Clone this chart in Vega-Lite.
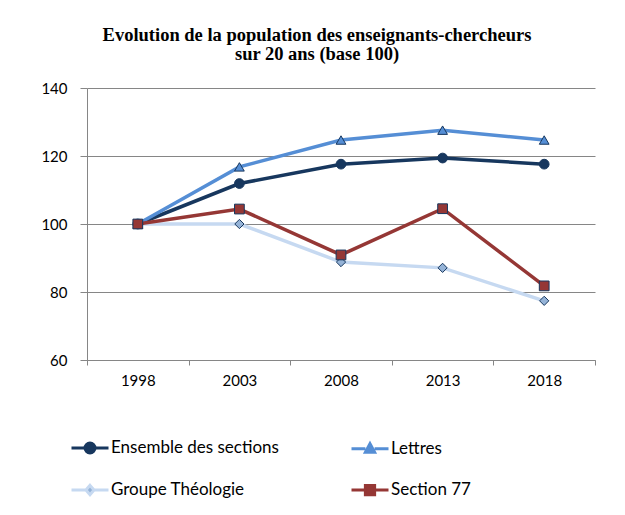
{
  "$schema": "https://vega.github.io/schema/vega-lite/v6.json",
  "width": 508,
  "height": 272,
  "autosize": "none",
  "padding": {"left": 87, "top": 88, "right": 30, "bottom": 155},
  "background": "white",
  "config": {"view": {"stroke": null}},
  "title": {
    "text": ["Evolution de la population des enseignants-chercheurs", "sur 20 ans (base 100)"],
    "font": "Liberation Serif",
    "fontSize": 18.5,
    "fontWeight": "bold",
    "color": "#000000",
    "anchor": "middle",
    "dx": -24,
    "offset": 18,
    "lineHeight": 19
  },
  "data": {
    "values": [
      {"annee": "1998", "serie": "Ensemble des sections", "valeur": 100},
      {"annee": "2003", "serie": "Ensemble des sections", "valeur": 111.9},
      {"annee": "2008", "serie": "Ensemble des sections", "valeur": 117.6},
      {"annee": "2013", "serie": "Ensemble des sections", "valeur": 119.4},
      {"annee": "2018", "serie": "Ensemble des sections", "valeur": 117.6},
      {"annee": "1998", "serie": "Lettres", "valeur": 100},
      {"annee": "2003", "serie": "Lettres", "valeur": 116.8},
      {"annee": "2008", "serie": "Lettres", "valeur": 124.7},
      {"annee": "2013", "serie": "Lettres", "valeur": 127.6},
      {"annee": "2018", "serie": "Lettres", "valeur": 124.7},
      {"annee": "1998", "serie": "Groupe Théologie", "valeur": 100},
      {"annee": "2003", "serie": "Groupe Théologie", "valeur": 100},
      {"annee": "2008", "serie": "Groupe Théologie", "valeur": 88.8},
      {"annee": "2013", "serie": "Groupe Théologie", "valeur": 87.1},
      {"annee": "2018", "serie": "Groupe Théologie", "valeur": 77.4},
      {"annee": "1998", "serie": "Section 77", "valeur": 100},
      {"annee": "2003", "serie": "Section 77", "valeur": 104.4},
      {"annee": "2008", "serie": "Section 77", "valeur": 90.9},
      {"annee": "2013", "serie": "Section 77", "valeur": 104.5},
      {"annee": "2018", "serie": "Section 77", "valeur": 81.8}
    ]
  },
  "encoding": {
    "x": {
      "field": "annee",
      "type": "ordinal",
      "bandPosition": 0.5,
      "scale": {"type": "band", "paddingInner": 0, "paddingOuter": 0},
      "axis": {
        "title": null,
        "labelAngle": 0,
        "tickBand": "extent",
        "domainColor": "#868686",
        "tickColor": "#868686",
        "tickSize": 5,
        "labelFont": "Lato",
        "labelFontSize": 15,
        "labelColor": "#000000",
        "labelPadding": 8,
        "grid": false
      }
    },
    "y": {
      "field": "valeur",
      "type": "quantitative",
      "scale": {"domain": [60, 140], "nice": false, "zero": false},
      "axis": {
        "title": null,
        "values": [60, 80, 100, 120, 140],
        "domainColor": "#868686",
        "tickColor": "#868686",
        "tickSize": 7,
        "gridColor": "#868686",
        "labelFont": "Lato",
        "labelFontSize": 15,
        "labelColor": "#000000",
        "labelPadding": 13
      }
    }
  },
  "layer": [
    {
      "mark": {"type": "line", "strokeWidth": 3.5},
      "encoding": {
        "color": {
          "field": "serie",
          "type": "nominal",
          "scale": {
            "domain": ["Ensemble des sections", "Lettres", "Groupe Théologie", "Section 77"],
            "range": ["#17375E", "#558ED5", "#C6D9F1", "#953735"]
          },
          "legend": {
            "orient": "none",
            "legendX": -17,
            "legendY": 340,
            "title": null,
            "columns": 2,
            "direction": "horizontal",
            "padding": 0,
            "symbolSize": 1369,
            "symbolStrokeWidth": 3,
            "labelFont": "Lato",
            "labelFontSize": 17,
            "labelColor": "#000000",
            "labelOffset": 1,
            "labelLimit": 300,
            "rowPadding": 11,
            "columnPadding": 66,
            "encode": {
              "symbols": {
                "update": {
                  "shape": {"signal": "datum.value === 'Ensemble des sections' ? 'M-1,0H-0.27M0.27,0H1M0.27,0A0.27,0.27,0,1,1,-0.27,0A0.27,0.27,0,1,1,0.27,0Z' : datum.value === 'Lettres' ? 'M-1,0H-0.25M0.25,0H1M0,-0.27L0.25,0.2L-0.25,0.2Z' : datum.value === 'Groupe Théologie' ? 'M-1,0H-0.22M0.22,0H1M0,-0.25L0.22,0L0,0.25L-0.22,0Z' : 'M-1,0H-0.25M0.25,0H1M-0.25,-0.25H0.25V0.25H-0.25Z'"},
                  "fill": {"signal": "datum.value === 'Ensemble des sections' ? '#17375E' : datum.value === 'Lettres' ? '#558ED5' : datum.value === 'Groupe Théologie' ? '#95B3D7' : '#953735'"},
                  "stroke": {"signal": "scale('color', datum.value)"},
                  "strokeWidth": {"value": 3},
                  "opacity": {"value": 1}
                }
              }
            }
          }
        }
      }
    },
    {
      "transform": [{"filter": "datum.serie === 'Ensemble des sections'"}],
      "mark": {"type": "point", "shape": "circle", "filled": true, "size": 95, "fill": "#17375E", "stroke": "#17375E", "strokeWidth": 1, "opacity": 1}
    },
    {
      "transform": [{"filter": "datum.serie === 'Lettres'"}],
      "mark": {"type": "point", "shape": "triangle-up", "filled": true, "size": 95, "fill": "#558ED5", "stroke": "#17375E", "strokeWidth": 1, "opacity": 1}
    },
    {
      "transform": [{"filter": "datum.serie === 'Groupe Théologie'"}],
      "mark": {"type": "point", "shape": "diamond", "filled": true, "size": 85, "fill": "#95B3D7", "stroke": "#17375E", "strokeWidth": 1, "opacity": 1}
    },
    {
      "transform": [{"filter": "datum.serie === 'Section 77'"}],
      "mark": {"type": "point", "shape": "square", "filled": true, "size": 95, "fill": "#953735", "stroke": "#17375E", "strokeWidth": 1, "opacity": 1}
    }
  ]
}
